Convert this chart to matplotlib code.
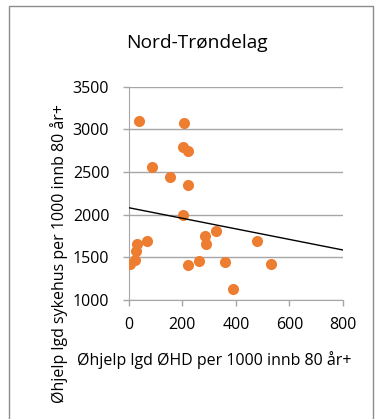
import matplotlib.pyplot as plt
from matplotlib.patches import Rectangle
import numpy as np

plt.rcParams["font.family"] = ["Open Sans", "DejaVu Sans"]

tittel = "Nord-Trøndelag"
x_label = "Øhjelp lgd ØHD per 1000 innb 80 år+"
y_label = "Øhjelp lgd sykehus per 1000 innb 80 år+"

ohd = [38, 206, 204, 220, 86, 155, 220, 204, 327, 283, 288, 477, 68,
       32, 26, 25, 3, 221, 262, 359, 532, 388]
sykehus = [3100, 3070, 2790, 2750, 2560, 2445, 2350, 2000, 1805, 1755, 1655,
           1690, 1690, 1660, 1575, 1465, 1418, 1406, 1453, 1441, 1418, 1133]

# trendlinje (Excel-trend)
trend_konstant = 2082
trend_stigning = -0.62

x_ticks = [0, 200, 400, 600, 800]
y_ticks = [1000, 1500, 2000, 2500, 3000, 3500]

fig = plt.figure(figsize=(3.78, 4.19), dpi=100)
ax = fig.add_axes([0.3405, 0.284, 0.567, 0.509])

grå = "#a6a6a6"
ax.scatter(ohd, sykehus, s=64, color="#ED7D31", zorder=3, linewidths=0)

xs = np.array([0, 800])
ax.plot(xs, trend_konstant + trend_stigning * xs, color="black",
        linewidth=1.0, zorder=4)

ax.set_xlim(0, 800)
ax.set_ylim(1000, 3500)
ax.set_xticks(x_ticks)
ax.set_yticks(y_ticks)
ax.grid(axis="y", color=grå, linewidth=1.0)
ax.set_axisbelow(True)
for side in ["top", "right"]:
    ax.spines[side].set_visible(False)
for side in ["left", "bottom"]:
    ax.spines[side].set_color(grå)
ax.tick_params(colors=grå, labelcolor="black", labelsize=11.5, length=4,
               width=1.0)
ax.tick_params(axis="y", pad=10)
ax.tick_params(axis="x", pad=8)

fig.text(0.52, 0.897, tittel, ha="center", va="center", fontsize=13.8)
fig.text(0.567, 0.141, x_label, ha="center", va="center", fontsize=11.5)
fig.text(0.157, 0.394, y_label, ha="center", va="center", fontsize=11.5,
         rotation=90)

fig.add_artist(Rectangle((8.5 / 378, -0.1), (373 - 8.5) / 378, 1.1 - 6.5 / 419,
                         transform=fig.transFigure, fill=False,
                         edgecolor="#8c8c8c", linewidth=1.0))

fig.savefig("out.png", dpi=100)
